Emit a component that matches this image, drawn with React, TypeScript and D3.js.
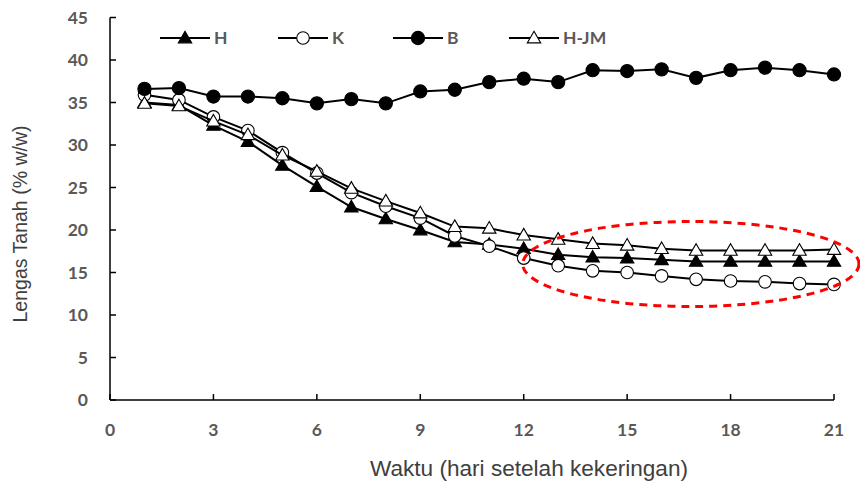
import React from "react";
import * as d3 from "d3";

const days = [1,2,3,4,5,6,7,8,9,10,11,12,13,14,15,16,17,18,19,20,21];
const seriesH = [35.0,34.7,32.3,30.4,27.6,25.1,22.7,21.3,20.0,18.6,18.3,17.8,17.1,16.8,16.7,16.5,16.3,16.3,16.3,16.3,16.3];
const seriesK = [35.9,35.3,33.3,31.7,29.1,26.7,24.4,22.8,21.4,19.3,18.1,16.7,15.8,15.2,15.0,14.6,14.2,14.0,13.9,13.7,13.6];
const seriesB = [36.6,36.7,35.7,35.7,35.5,34.9,35.4,34.9,36.3,36.5,37.4,37.8,37.4,38.8,38.7,38.9,37.9,38.8,39.1,38.8,38.3];
const seriesHJM = [34.9,34.6,32.8,31.2,28.8,26.9,24.9,23.4,22.0,20.4,20.2,19.4,18.9,18.4,18.2,17.8,17.6,17.6,17.6,17.6,17.7];
const seriesNames = ["H","K","B","H-JM"];
const xTicks = [0,3,6,9,12,15,18,21];
const yTicks = [0,5,10,15,20,25,30,35,40,45];
const highlightRange = { x0: 12, x1: 21, y0: 11, y1: 21 };

type Marker = "triFill" | "circOpen" | "circFill" | "triOpen";
const markers: Marker[] = ["triFill","circOpen","circFill","triOpen"];

const W = 860, H = 494;
const x = d3.scaleLinear().domain([0, 21]).range([110, 834]);
const y = d3.scaleLinear().domain([0, 45]).range([400, 17.5]);

const tickFont = "Lato, 'Open Sans', sans-serif";
const tickColor = "#595959";

function MarkerShape({ type, cx, cy }: { type: Marker; cx: number; cy: number }) {
  if (type === "circOpen" || type === "circFill") {
    const r = type === "circFill" ? 6.6 : 6.3;
    return <circle cx={cx} cy={cy} r={r} fill={type === "circFill" ? "#000" : "#fff"} stroke="#000" strokeWidth={1.1} />;
  }
  const tri = d3.symbol().type(d3.symbolTriangle).size(78)();
  return (
    <path d={tri || ""} transform={`translate(${cx},${cy + 1})`}
      fill={type === "triFill" ? "#000" : "#fff"} stroke="#000" strokeWidth={1.1} />
  );
}

export default function App() {
  const data = [seriesH, seriesK, seriesB, seriesHJM];
  const line = d3.line<number>().x((_, i) => x(days[i])).y((d) => y(d));
  const legendX = [160, 278, 393, 509];
  const ecx = (x(highlightRange.x0) + x(highlightRange.x1)) / 2 + 12;
  const ecy = (y(highlightRange.y0) + y(highlightRange.y1)) / 2;
  const erx = (x(highlightRange.x1) - x(highlightRange.x0)) / 2 + 13;
  const ery = (y(highlightRange.y0) - y(highlightRange.y1)) / 2;
  return (
    <svg width={W} height={H} style={{ position: "absolute", left: 0, top: 0, background: "#fff" }}>
      <rect width={W} height={H} fill="#fff" />
      {/* axes */}
      <line x1={x(0)} x2={x(0)} y1={y(0)} y2={y(45)} stroke="#000" strokeWidth={1.5} />
      <line x1={x(0)} x2={x(21)} y1={y(0)} y2={y(0)} stroke="#000" strokeWidth={1.5} />
      {yTicks.map((t) => (
        <g key={"y" + t}>
          <line x1={x(0)} x2={x(0) + 6} y1={y(t)} y2={y(t)} stroke="#000" strokeWidth={1.5} />
          <text x={88} y={y(t)} dy="0.36em" textAnchor="end" fontFamily={tickFont} fontWeight={700} fontSize={17.5} fill={tickColor}>{t}</text>
        </g>
      ))}
      {xTicks.map((t) => (
        <g key={"x" + t}>
          <line x1={x(t)} x2={x(t)} y1={y(0)} y2={y(0) - 6} stroke="#000" strokeWidth={1.5} />
          <text x={x(t)} y={436} textAnchor="middle" fontFamily={tickFont} fontWeight={700} fontSize={17.5} fill={tickColor}>{t}</text>
        </g>
      ))}
      <text transform="translate(27,224) rotate(-90)" textAnchor="middle" fontFamily="'Liberation Sans', Arial, sans-serif" fontSize={20} textLength={197} lengthAdjust="spacingAndGlyphs" fill="#404040">Lengas Tanah (% w/w)</text>
      <text x={529} y={476} textAnchor="middle" fontFamily="'Liberation Sans', Arial, sans-serif" fontSize={21.5} textLength={318} lengthAdjust="spacingAndGlyphs" fill="#404040">Waktu (hari setelah kekeringan)</text>
      {/* series */}
      {data.map((s, si) => (
        <g key={"s" + si}>
          <path d={line(s) || ""} fill="none" stroke="#000" strokeWidth={2} />
          {s.map((v, i) => (
            <MarkerShape key={i} type={markers[si]} cx={x(days[i])} cy={y(v)} />
          ))}
        </g>
      ))}
      {/* legend */}
      {seriesNames.map((n, i) => (
        <g key={"l" + n}>
          <line x1={legendX[i]} x2={legendX[i] + 50} y1={38} y2={38} stroke="#000" strokeWidth={2} />
          <MarkerShape type={markers[i]} cx={legendX[i] + 25} cy={38} />
          <text x={legendX[i] + 54} y={38} dy="0.36em" fontFamily={tickFont} fontWeight={700} fontSize={17.5} fill={tickColor}>{n}</text>
        </g>
      ))}
      {/* highlight ellipse */}
      <ellipse cx={ecx} cy={ecy} rx={erx} ry={ery} fill="none" stroke="#ff0000" strokeWidth={3} strokeDasharray="8 6" />
    </svg>
  );
}
